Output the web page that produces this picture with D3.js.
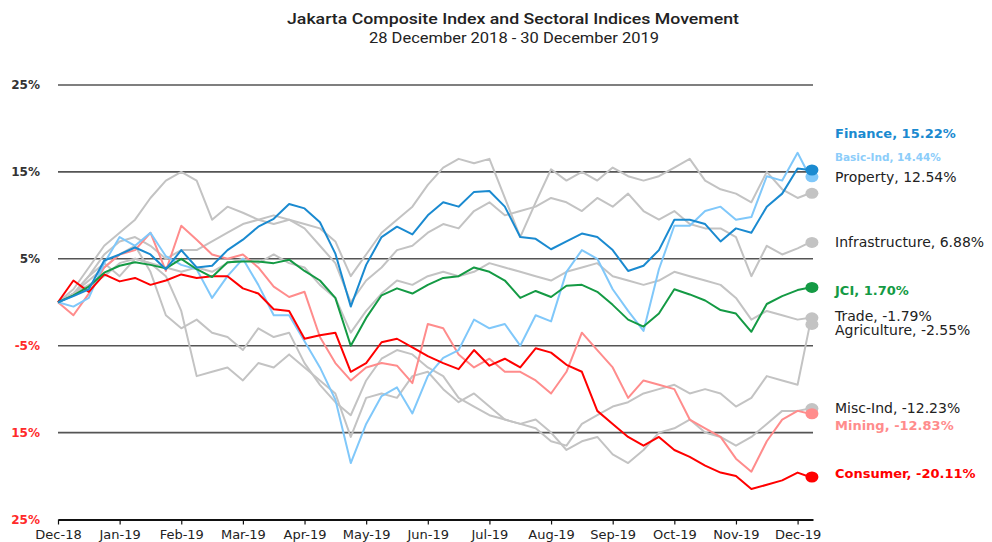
<!DOCTYPE html>
<meta charset="utf-8">
<style>
  body { margin: 0; background: #fff; }
  text { font-family: "DejaVu Sans", sans-serif; }
</style>
<body>
<svg id="chart" width="992" height="542"></svg>
<script src="https://d3js.org/d3.v7.min.js"></script>
<script>
// trading day index of each sample (about one point a week)
var tradingDay = [0,5,10,15,20,25,30,35,40,45,50,55,60,65,70,75,80,85,90,95,100,105,110,115,120,
  125,130,135,140,145,150,155,160,165,170,175,180,185,190,195,200,205,210,215,220,225,230,235,240,244];

// month labels, one every 20 trading days
var monthLabels = ["Dec-18","Jan-19","Feb-19","Mar-19","Apr-19","May-19","Jun-19","Jul-19","Aug-19","Sep-19","Oct-19","Nov-19","Dec-19"];

var yTicks = [25, 15, 5, -5, -15, -25];
var yTickText = ["25%", "15%", "5%", "-5%", "15%", "25%"];

// % change since 28 Dec 2018
var property = [0,1.5,4,6.5,8,9.5,12,14,15,14,9.5,11,10.3,9.5,10,9.5,9,8.5,7,3,5.5,8,9.5,11,13.5,
  15.5,16.5,16,16.5,12,7.5,11.5,15.3,14,15,14,15.5,14.5,14,14.5,15.5,16.5,14,13,12.5,11.5,15,13,12,12.54];
var infrastructure = [0,1,3,5.5,7,7.5,6.5,5,6,6,7,8,9,9.5,9,9.5,8.5,6.5,4.5,0,2.5,4,6,6.5,8,
  9,8.5,10.5,11.5,10,10.5,11,12,11.5,10.5,12,11,12.5,10.5,9.5,10.5,9,8.5,8.5,7.5,3,6.5,5.5,6.2,6.88];
var trade = [0,1,2,3,4.5,5,4.5,4,3.5,4,3.5,4.5,5,4.5,5.5,4.5,4,2,0.5,-3.5,-1,1,2.5,2,3,
  3.5,3,3.5,4.5,4,3.5,3,2.5,3.5,4,4.5,3,2.5,2,2.5,3.5,3,2.5,2,0.5,-2,-1,-1.5,-2,-1.79];
var agriculture = [0,1,2.5,4,5.5,6.5,3.5,-1.5,-3,-2,-3.5,-4,-5.5,-3,-4,-3.5,-7,-9.5,-11.5,-13,-9,-6.5,-5.5,-6,-7.5,
  -8.5,-11,-12,-13,-13.5,-14,-14.5,-16,-16.5,-14,-13,-12,-11.5,-10.5,-10,-9.5,-10.5,-10,-10.5,-12,-11,-8.5,-9,-9.5,-2.55];
var miscInd = [0,1,3,4.5,3,5,4.5,3,-1,-8.5,-8,-7.5,-9,-7,-7.5,-6,-7.5,-9,-10.5,-15.5,-11,-10.5,-11,-8.5,-8,
  -10,-11.5,-10.5,-12,-13.5,-14,-13.5,-15,-17,-16,-15.5,-17.5,-18.5,-17,-15,-14.5,-13.5,-15,-15.5,-16.5,-15.5,-14,-12.5,-12.5,-12.23];
var mining = [0,-1.5,1,4,5.5,6,8,3.6,8.8,7.2,5.5,5,5.5,4,1.8,0.6,1.2,-4,-7,-9,-7.5,-7,-7.3,-9.3,-2.5,
  -3,-6,-7.5,-6.5,-8,-8,-9,-10.5,-8,-3.5,-5.5,-7.5,-11,-9,-9.5,-10,-13.5,-14.5,-15.5,-18,-19.5,-16,-13.5,-12.5,-12.83];
var basicInd = [0,-0.5,0.5,4.5,7.5,6.5,8,5.3,4.3,3.8,0.5,3,5,2,-1.5,-1.5,-4.5,-7.5,-11.2,-18.5,-14,-10.8,-9.8,-12.8,-8.5,
  -6.4,-5.5,-2,-3,-2.5,-5,-1.5,-2.2,3.5,6,5,1.5,-1,-3.3,3.8,8.8,8.8,10.5,11,9.5,9.8,14.5,14,17.2,14.44];
var consumer = [0,2.5,1.2,3.2,2.4,2.8,2,2.5,3.2,2.8,3,3,1.6,1,-0.8,-1,-4.2,-3.8,-3.5,-8,-7,-4.6,-4.2,-5.2,-6.2,
  -7,-7.7,-5.5,-7.3,-6.5,-7.5,-5.3,-5.8,-7.2,-8,-12.5,-14,-15.5,-16.5,-15.5,-17,-17.8,-18.8,-19.6,-20,-21.5,-21,-20.5,-19.6,-20.11];
var jci = [0,0.8,1.8,3.4,4.2,4.6,4.3,3.9,5,3.8,2.9,4.6,4.7,4.7,4.5,4.9,3.6,2.5,0.5,-5,-1.8,0.8,1.6,1,2,
  2.8,3,4,3.5,2.5,0.5,1.3,0.6,1.9,2,1.2,-0.3,-2,-2.8,-1.3,1.5,0.9,0.2,-0.9,-1.3,-3.4,-0.2,0.7,1.4,1.7];
var finance = [0,0.7,1.5,4.8,5.5,6.3,5.5,3.8,6,4,4.2,6,7.2,8.7,9.6,11.3,10.8,9.2,5.6,-0.5,4.3,7.5,8.7,7.8,10,
  11.5,11,12.7,12.8,11,7.5,7.3,6.1,7,7.9,7.5,6,3.6,4.2,6,9.5,9.5,9,7,8.5,8,11,12.5,15.4,15.22];

var seriesNames = ["Property","Infrastructure","Trade","Agriculture","Misc-Ind","Mining","Basic-Ind","Consumer","JCI","Finance"];
var seriesValues = [property, infrastructure, trade, agriculture, miscInd, mining, basicInd, consumer, jci, finance];
var seriesColors = ["#c3c3c3","#c3c3c3","#c3c3c3","#c3c3c3","#c3c3c3","#ff8c8c","#80c8fa","#ff0000","#149a44","#1a8ad0"];
var labelColors = ["#222","#222","#222","#222","#222","#ff8c8c","#8ccdfa","#ff0000","#149a44","#1a8ad0"];
var labelBold = [false,false,false,false,false,true,true,true,true,true];
var labelSize = [14,14,14,14,14,13,10.5,13,13,13];
// vertical nudge of end labels so they do not collide
var labelShift = [-16,0,-2,6,0,12,-19,-4,3,-37];

var svg = d3.select("#chart");

var x = d3.scaleLinear().domain([0, 245]).range([58, 813]);
var y = d3.scaleLinear().domain([-25, 25]).range([519.5, 85]);

// title
svg.append("text")
  .attr("x", 513).attr("y", 24)
  .attr("text-anchor", "middle")
  .attr("textLength", 452).attr("lengthAdjust", "spacingAndGlyphs")
  .style("font-family", "Roboto, sans-serif")
  .style("font-size", "15px").style("font-weight", 500).style("fill", "#222")
  .text("Jakarta Composite Index and Sectoral Indices Movement");
svg.append("text")
  .attr("x", 514).attr("y", 43)
  .attr("text-anchor", "middle")
  .attr("textLength", 290).attr("lengthAdjust", "spacingAndGlyphs")
  .style("font-family", "Roboto, sans-serif")
  .style("font-size", "14px").style("fill", "#222")
  .text("28 December 2018 - 30 December 2019");

// grid lines
svg.append("g")
  .selectAll("line")
  .data(yTicks.filter(function(d) { return d > -25; }))
  .enter().append("line")
    .attr("x1", x(0)).attr("x2", x(245))
    .attr("y1", function(d) { return y(d); })
    .attr("y2", function(d) { return y(d); })
    .style("stroke", "#555").style("stroke-width", 1.6);

// y labels
svg.append("g")
  .selectAll("text")
  .data(yTicks)
  .enter().append("text")
    .attr("x", 40)
    .attr("y", function(d) { return y(d); })
    .attr("dy", "0.35em")
    .attr("text-anchor", "end")
    .style("font-size", "12px").style("font-weight", 700)
    .style("fill", function(d) { return d < 0 ? "#ff2a2a" : "#333"; })
    .text(function(d, i) { return yTickText[i]; });

// x axis
var xAxis = d3.axisBottom(x)
  .tickValues(monthLabels.map(function(d, i) { return i * 20; }))
  .tickFormat(function(d, i) { return monthLabels[i]; })
  .tickSize(5)
  .tickSizeOuter(0);
var gx = svg.append("g")
  .attr("transform", "translate(0," + y(-25) + ")")
  .call(xAxis);
gx.select(".domain").style("stroke", "#111").style("stroke-width", 2);
gx.selectAll(".tick line").style("stroke", "#111").style("stroke-width", 1.2);
gx.selectAll(".tick text")
  .attr("y", 10)
  .style("font-family", "'DejaVu Sans', sans-serif")
  .style("font-size", "13px").style("fill", "#222");

// lines
var line = d3.line()
  .x(function(d, i) { return x(tradingDay[i]); })
  .y(function(d) { return y(d); });

var last = tradingDay.length - 1;

seriesValues.forEach(function(vals, s) {
  svg.append("path")
    .datum(vals)
    .attr("d", line)
    .style("fill", "none")
    .style("stroke", seriesColors[s])
    .style("stroke-width", 2)
    .style("stroke-linejoin", "round");
});

// end dots and labels
seriesValues.forEach(function(vals, s) {
  svg.append("ellipse")
    .attr("cx", x(tradingDay[last]) + 2)
    .attr("cy", y(vals[last]))
    .attr("rx", 6.5).attr("ry", 5.5)
    .style("fill", seriesColors[s]);

  var v = vals[last];
  var str = (v < 0 ? "-" : "") + Math.abs(v).toFixed(2) + "%";
  svg.append("text")
    .attr("x", 835)
    .attr("y", y(v) + labelShift[s])
    .attr("dy", "0.35em")
    .style("font-size", labelSize[s] + "px")
    .style("font-weight", labelBold[s] ? 700 : 400)
    .style("fill", labelColors[s])
    .text(seriesNames[s] + ", " + str);
});
</script>
</body>
